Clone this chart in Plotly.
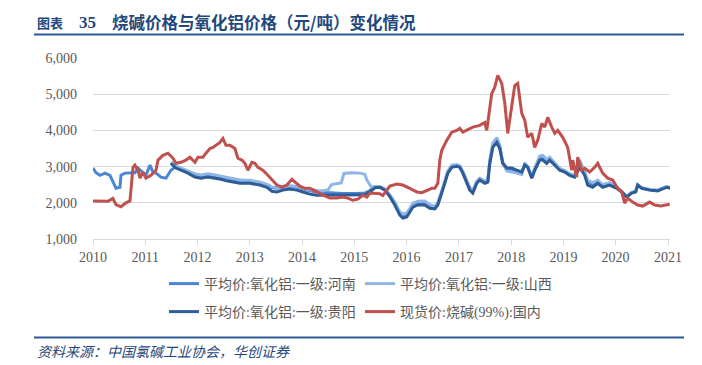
import plotly.graph_objects as go
import pandas as pd

# time offsets in years since 2010-01-01
red_t = [0.0, 0.29, 0.38, 0.44, 0.535, 0.63, 0.707, 0.727, 0.765, 0.80, 0.86, 0.90, 0.956, 1.013, 1.109, 1.205, 1.243, 1.338, 1.434, 1.53, 1.587, 1.683, 1.778, 1.855, 1.95, 2.008, 2.103, 2.161, 2.237, 2.294, 2.352, 2.428, 2.486, 2.543, 2.62, 2.715, 2.772, 2.849, 2.906, 2.964, 3.04, 3.098, 3.155, 3.25, 3.346, 3.423, 3.518, 3.614, 3.709, 3.805, 3.862, 3.958, 4.054, 4.149, 4.283, 4.398, 4.532, 4.665, 4.78, 4.876, 4.971, 5.067, 5.163, 5.239, 5.296, 5.392, 5.488, 5.545, 5.679, 5.813, 5.927, 6.061, 6.195, 6.291, 6.386, 6.482, 6.539, 6.597, 6.635, 6.673, 6.769, 6.864, 6.96, 7.017, 7.075, 7.151, 7.266, 7.40, 7.495, 7.533, 7.553, 7.629, 7.686, 7.744, 7.82, 7.878, 7.935, 8.011, 8.069, 8.126, 8.164, 8.203, 8.26, 8.317, 8.394, 8.451, 8.509, 8.585, 8.642, 8.70, 8.776, 8.834, 8.891, 8.987, 9.082, 9.159, 9.178, 9.254, 9.273, 9.35, 9.407, 9.503, 9.598, 9.656, 9.751, 9.847, 9.943, 10.038, 10.115, 10.172, 10.229, 10.325, 10.421, 10.516, 10.65, 10.746, 10.861, 10.975, 11.033]
red_v = [2050, 2040, 2120, 1950, 1890, 2000, 2050, 2430, 2980, 3040, 2900, 2680, 2850, 2680, 2760, 2900, 3180, 3310, 3370, 3230, 3090, 3120, 3180, 3260, 3120, 3260, 3260, 3370, 3500, 3530, 3590, 3670, 3780, 3590, 3590, 3500, 3230, 3180, 3090, 2900, 3120, 3090, 2980, 2900, 2760, 2630, 2490, 2430, 2490, 2650, 2570, 2460, 2400, 2400, 2300, 2210, 2130, 2130, 2160, 2130, 2070, 2100, 2210, 2160, 2270, 2270, 2250, 2200, 2460, 2520, 2490, 2400, 2300, 2280, 2350, 2400, 2400, 2540, 3180, 3450, 3730, 3950, 4000, 4060, 3950, 4000, 4090, 4140, 4220, 4000, 4190, 5020, 5190, 5520, 5300, 4750, 3920, 4640, 5240, 5300, 4800, 4470, 4280, 3810, 3920, 3530, 3730, 4190, 4090, 4360, 4090, 3920, 4000, 3810, 3530, 2900, 3180, 2710, 3260, 2900, 2950, 2850, 2980, 3090, 2820, 2680, 2630, 2400, 2300, 1990, 2130, 2020, 1940, 1910, 2020, 1940, 1910, 1940, 1960]

gz_t = [1.491, 1.587, 1.683, 1.816, 1.95, 2.065, 2.199, 2.333, 2.447, 2.581, 2.715, 2.811, 3.002, 3.193, 3.327, 3.423, 3.518, 3.633, 3.767, 3.901, 4.015, 4.149, 4.283, 4.532, 4.78, 5.048, 5.20, 5.296, 5.40, 5.50, 5.583, 5.679, 5.774, 5.870, 5.927, 6.004, 6.061, 6.119, 6.214, 6.348, 6.444, 6.539, 6.597, 6.673, 6.730, 6.788, 6.864, 6.960, 7.017, 7.075, 7.151, 7.208, 7.266, 7.342, 7.400, 7.495, 7.553, 7.591, 7.648, 7.725, 7.782, 7.839, 7.916, 8.011, 8.107, 8.203, 8.260, 8.317, 8.394, 8.451, 8.547, 8.604, 8.681, 8.738, 8.834, 8.929, 9.025, 9.120, 9.216, 9.312, 9.407, 9.465, 9.560, 9.656, 9.751, 9.885, 10.019, 10.115, 10.210, 10.306, 10.382, 10.421, 10.497, 10.650, 10.803, 10.880, 10.975, 11.05]
gz_v = [3090, 2960, 2900, 2820, 2710, 2680, 2710, 2680, 2650, 2600, 2570, 2540, 2540, 2490, 2430, 2320, 2300, 2350, 2380, 2350, 2300, 2240, 2210, 2210, 2210, 2210, 2220, 2300, 2420, 2420, 2350, 2170, 1940, 1660, 1580, 1610, 1750, 1880, 1940, 1940, 1850, 1830, 1940, 2260, 2540, 2820, 2980, 3010, 2980, 2820, 2570, 2350, 2270, 2540, 2630, 2540, 2570, 3090, 3530, 3670, 3500, 3090, 2960, 2960, 2900, 2850, 3040, 2980, 2680, 2900, 3180, 3180, 3090, 3180, 3040, 2900, 2850, 2760, 2710, 2980, 2760, 2490, 2430, 2540, 2430, 2490, 2400, 2300, 2160, 2270, 2300, 2490, 2400, 2350, 2330, 2380, 2430, 2400]

hn_t = [0.0, 0.057, 0.134, 0.229, 0.325, 0.382, 0.44, 0.516, 0.535, 0.612, 0.707, 0.803, 0.860, 0.956, 1.013, 1.09, 1.147, 1.205, 1.30, 1.396, 1.491, 1.587, 1.683, 1.816, 1.95, 2.065, 2.199, 2.333, 2.447, 2.581, 2.715, 2.811, 3.002, 3.193, 3.327, 3.423, 3.518, 3.633, 3.767, 3.901, 4.015, 4.149, 4.283, 4.532, 4.78, 5.048, 5.20, 5.296, 5.40, 5.50, 5.583, 5.679, 5.774, 5.870, 5.927, 6.004, 6.061, 6.119, 6.214, 6.348, 6.444, 6.539, 6.597, 6.673, 6.730, 6.788, 6.864, 6.960, 7.017, 7.075, 7.151, 7.208, 7.266, 7.342, 7.400, 7.495, 7.553, 7.591, 7.648, 7.725, 7.782, 7.839, 7.916, 8.011, 8.107, 8.203, 8.260, 8.317, 8.394, 8.451, 8.547, 8.604, 8.681, 8.738, 8.834, 8.929, 9.025, 9.120, 9.216, 9.312, 9.407, 9.465, 9.560, 9.656, 9.751, 9.885, 10.019, 10.115, 10.210, 10.306, 10.382, 10.421, 10.497, 10.650, 10.803, 10.880, 10.975, 11.05]
hn_v = [2960, 2830, 2760, 2820, 2760, 2570, 2400, 2430, 2760, 2820, 2820, 2830, 2960, 2850, 2760, 3040, 2850, 2820, 2710, 2680, 2900, 3000, 2950, 2870, 2780, 2750, 2780, 2750, 2720, 2680, 2640, 2620, 2610, 2560, 2500, 2420, 2400, 2430, 2450, 2430, 2380, 2330, 2300, 2280, 2260, 2260, 2270, 2340, 2440, 2430, 2370, 2200, 1990, 1720, 1630, 1650, 1790, 1920, 1990, 1990, 1900, 1880, 1980, 2290, 2570, 2840, 3000, 3030, 3000, 2850, 2600, 2390, 2310, 2570, 2650, 2570, 2600, 3120, 3570, 3720, 3540, 3110, 2930, 2930, 2870, 2830, 3060, 2990, 2700, 2920, 3220, 3230, 3120, 3200, 3060, 2920, 2870, 2780, 2740, 3050, 2800, 2560, 2500, 2580, 2470, 2520, 2420, 2310, 2170, 2280, 2310, 2490, 2410, 2360, 2340, 2390, 2440, 2410]

sx_t = [1.491, 1.587, 1.683, 1.816, 1.95, 2.065, 2.199, 2.333, 2.447, 2.581, 2.715, 2.811, 3.002, 3.193, 3.327, 3.423, 3.518, 3.633, 3.767, 3.901, 4.015, 4.149, 4.283, 4.40, 4.50, 4.56, 4.62, 4.75, 4.80, 4.95, 5.10, 5.20, 5.24, 5.32, 5.40, 5.50, 5.583, 5.679, 5.774, 5.870, 5.927, 6.004, 6.061, 6.119, 6.214, 6.348, 6.444, 6.539, 6.597, 6.673, 6.730, 6.788, 6.864, 6.960, 7.017, 7.075, 7.151, 7.208, 7.266, 7.342, 7.400, 7.495, 7.553, 7.591, 7.648, 7.725, 7.782, 7.839, 7.916, 8.011, 8.107, 8.203, 8.260, 8.317, 8.394, 8.451, 8.547, 8.604, 8.681, 8.738, 8.834, 8.929, 9.025, 9.120, 9.216, 9.312, 9.407, 9.465, 9.560, 9.656, 9.751, 9.885, 10.019, 10.115, 10.210, 10.306, 10.382, 10.421, 10.497, 10.650, 10.803, 10.880, 10.975, 11.05]
sx_v = [3120, 3020, 2960, 2890, 2800, 2770, 2800, 2770, 2740, 2700, 2660, 2630, 2620, 2570, 2510, 2440, 2420, 2450, 2470, 2450, 2400, 2360, 2340, 2330, 2360, 2500, 2520, 2550, 2810, 2830, 2820, 2790, 2630, 2450, 2440, 2440, 2380, 2220, 2020, 1750, 1690, 1720, 1850, 1990, 2040, 2050, 1950, 1900, 2000, 2300, 2590, 2880, 3040, 3060, 3020, 2870, 2620, 2430, 2340, 2600, 2680, 2600, 2640, 3180, 3650, 3800, 3600, 3100, 2880, 2860, 2820, 2780, 3100, 3000, 2720, 2960, 3290, 3310, 3200, 3260, 3110, 2950, 2890, 2800, 2770, 3180, 2850, 2620, 2560, 2620, 2500, 2560, 2440, 2320, 2180, 2290, 2320, 2500, 2420, 2370, 2350, 2400, 2450, 2420]

names = ["平均价:氧化铝:一级:河南", "平均价:氧化铝:一级:山西", "平均价:氧化铝:一级:贵阳", "现货价:烧碱(99%):国内"]
colors = ["#4A86D4", "#8FB6E4", "#2E5C96", "#C0504D"]
year_ticks = [str(y) for y in range(2010, 2022)]

base = pd.Timestamp("2010-01-01")
def to_dates(ts):
    return [base + pd.Timedelta(days=t * 365.25) for t in ts]

# plot area in pixels: x 93..670, y 58..239
PL, PR, PT, PB = 93, 670, 58, 239
def px(x):
    return (x - PL) / (PR - PL)
def py(y):
    return (PB - y) / (PB - PT)

fig = go.Figure()
for t, v, n, c, lg in [(hn_t, hn_v, names[0], colors[0], "legend"),
                       (sx_t, sx_v, names[1], colors[1], "legend"),
                       (gz_t, gz_v, names[2], colors[2], "legend2"),
                       (red_t, red_v, names[3], colors[3], "legend2")]:
    fig.add_trace(go.Scatter(x=to_dates(t), y=v, name=n, mode="lines", legend=lg,
                             line=dict(color=c, width=3)))

legfont = dict(size=14, color="#595959", family="Liberation Serif, Noto Sans CJK SC")
fig.update_layout(
    width=702, height=365,
    margin=dict(l=PL, r=702 - PR, t=PT, b=365 - PB),
    paper_bgcolor="white", plot_bgcolor="white",
    font=dict(family="Liberation Serif, Noto Sans CJK SC", size=14, color="#595959"),
    showlegend=True,
    legend=dict(orientation="h", x=px(164), xanchor="left", y=py(268), yanchor="top",
                entrywidth=151, font=legfont, bgcolor="rgba(0,0,0,0)"),
    legend2=dict(orientation="h", x=px(164), xanchor="left", y=py(296), yanchor="top",
                 entrywidth=151, font=legfont, bgcolor="rgba(0,0,0,0)"),
)
fig.update_xaxes(range=[pd.Timestamp("2010-01-01"), pd.Timestamp("2021-01-15")],
                 tickvals=[pd.Timestamp(y + "-01-01") for y in year_ticks], ticktext=year_ticks,
                 showgrid=False, showline=True, linecolor="#D9D9D9", linewidth=1,
                 ticks="outside", ticklen=5, tickcolor="#D9D9D9", zeroline=False)
fig.update_yaxes(range=[1000, 6000], dtick=1000, tickformat=",", showgrid=True,
                 gridcolor="#D9D9D9", gridwidth=1, zeroline=False, showline=False, ticks="",
                 ticklabelstandoff=15)

navy = "#1F497D"
fig.add_annotation(text="<b>图表</b>", xref="paper", yref="paper", x=px(35), xanchor="left",
                   y=py(22), yanchor="middle", showarrow=False,
                   font=dict(family="Noto Sans CJK SC", size=13, color=navy))
fig.add_annotation(text="<b>35</b>", xref="paper", yref="paper", x=px(77), xanchor="left",
                   y=py(22), yanchor="middle", showarrow=False,
                   font=dict(family="Liberation Serif", size=17, color=navy))
fig.add_annotation(text="<b>烧碱价格与氧化铝价格（元/吨）变化情况</b>", xref="paper", yref="paper",
                   x=px(110), xanchor="left", y=py(22), yanchor="middle", showarrow=False,
                   font=dict(family="Noto Sans CJK SC", size=16.5, color=navy))

fig.add_shape(type="line", xref="paper", yref="paper", x0=px(34), x1=px(684),
              y0=py(34.5), y1=py(34.5), line=dict(color="#2B5A9A", width=2))
fig.add_shape(type="line", xref="paper", yref="paper", x0=px(34), x1=px(684),
              y0=py(337.5), y1=py(337.5), line=dict(color="#2B5A9A", width=2))
fig.add_annotation(text="资料来源：中国氯碱工业协会，华创证券", xref="paper", yref="paper",
                   x=px(35), xanchor="left", y=py(351), yanchor="middle", showarrow=False,
                   font=dict(family="Noto Sans CJK SC", size=14, color=navy, style="italic"))

fig.write_html("out.html", config={"displayModeBar": False},
               post_script="document.body.style.margin='0px';")
